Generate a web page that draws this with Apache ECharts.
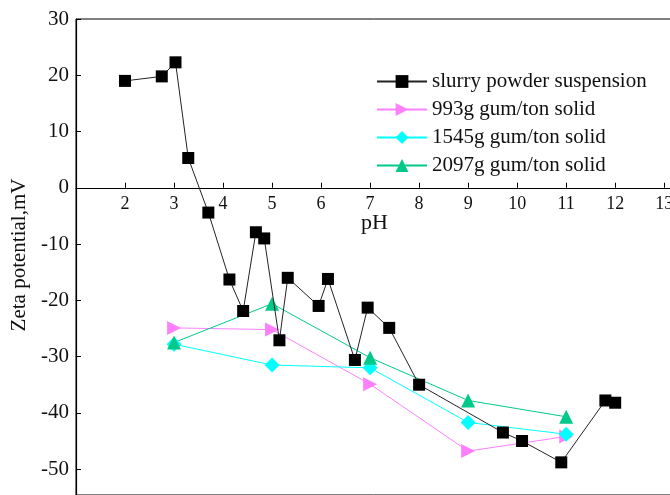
<!DOCTYPE html>
<html lang="en">
<head>
    <meta charset="UTF-8">
    <title>Zeta potential vs pH</title>
    <script src="https://cdn.jsdelivr.net/npm/echarts@6/dist/echarts.min.js"></script>
    <style>
        html, body { margin: 0; padding: 0; background: #fff; }
    </style>
</head>
<body>
<div id="main" style="width: 670px; height: 495px;"></div>
<script type="text/javascript">
    // 数据：pH 与 zeta 电位
    var slurryPH = [2.0, 2.75, 3.03, 3.29, 3.7, 4.13, 4.41, 4.67, 4.84, 5.15, 5.32, 5.95, 6.14, 6.69, 6.95, 7.39, 8.0, 9.71, 10.1, 10.9, 11.8, 12.0];
    var slurryZeta = [19.0, 19.8, 22.3, 5.3, -4.4, -16.3, -21.9, -7.9, -9.0, -27.1, -16.0, -21.0, -16.2, -30.6, -21.3, -24.9, -35.0, -43.5, -45.0, -48.8, -37.8, -38.2];

    var gumPH = [3, 5, 7, 9, 11];
    var gum993 = [-24.9, -25.2, -34.9, -46.8, -44.2];
    var gum1545 = [-27.8, -31.5, -32.0, -41.7, -43.8];
    var gum2097 = [-27.5, -20.6, -30.2, -37.8, -40.7];

    var seriesNames = ['slurry powder suspension', '993g gum/ton solid', '1545g gum/ton solid', '2097g gum/ton solid'];

    // 刻度标签
    var xTicks = [2, 3, 4, 5, 6, 7, 8, 9, 10, 11, 12, 13];
    var yTicks = [-50, -40, -30, -20, -10, 0, 10, 20, 30];
    var yMin = -54.6, yMax = 30;

    function pairs(xs, ys) {
        var out = [];
        for (var i = 0; i < xs.length; i++) out.push([xs[i], ys[i]]);
        return out;
    }

    var font = 'Liberation Serif';
    var gridTop = 19, gridH = 495 - gridTop;
    // 第二个 grid 的底边正好落在 y=0 处，用它画 pH 轴
    var zeroH = gridH * yMax / (yMax - yMin);

    var myEcharts = echarts.init(document.getElementById('main'));
    var option = {
        animation: false,
        grid: [
            {
                left: 76, right: -4, top: gridTop, bottom: 0,
                outerBoundsMode: 'none',
                show: true, borderColor: '#000', borderWidth: 1
            },
            {
                left: 76, right: -4, top: gridTop, height: zeroH,
                outerBoundsMode: 'none'
            }
        ],
        legend: {
            orient: 'vertical',
            left: 371, top: 66,
            itemWidth: 50, itemHeight: 16, itemGap: 7,
            textStyle: { fontFamily: font, fontSize: 21, color: '#111' },
            data: seriesNames
        },
        graphic: [{
            type: 'text', left: 361, top: 212,
            style: { text: 'pH', fontFamily: font, fontSize: 22, fill: '#111' }
        }],
        xAxis: [
            {
                type: 'value', gridIndex: 0,
                min: 1, max: 13.2,
                axisLine: { show: false },
                axisTick: { show: false },
                axisLabel: { show: false },
                splitLine: { show: false }
            },
            {
                type: 'value', gridIndex: 1, position: 'bottom',
                min: 1, max: 13.2,
                axisLine: { onZero: false, lineStyle: { color: '#000', width: 1.2 } },
                axisTick: { inside: true, length: 5, customValues: xTicks, lineStyle: { color: '#000' } },
                axisLabel: {
                    margin: 7, fontFamily: font, fontSize: 18, color: '#111',
                    customValues: xTicks
                },
                splitLine: { show: false }
            }
        ],
        yAxis: [
            {
                type: 'value', gridIndex: 0,
                min: yMin, max: yMax,
                name: 'Zeta potential,mV', nameLocation: 'middle', nameGap: 44,
                nameTextStyle: { fontFamily: font, fontSize: 21, color: '#111', padding: [0, 0, 0, 4] },
                axisLine: { lineStyle: { color: '#000', width: 1.2 } },
                axisTick: { inside: true, length: 5, customValues: yTicks, lineStyle: { color: '#000' } },
                axisLabel: {
                    margin: 7, fontFamily: font, fontSize: 21, color: '#111',
                    customValues: yTicks
                },
                splitLine: { show: false }
            },
            {
                type: 'value', gridIndex: 1, min: 0, max: yMax, show: false
            }
        ],
        series: [
            {
                name: seriesNames[0], type: 'line',
                data: pairs(slurryPH, slurryZeta),
                symbol: 'rect', symbolSize: 12,
                itemStyle: { color: '#000' },
                lineStyle: { color: '#222', width: 1 },
                z: 5
            },
            {
                name: seriesNames[1], type: 'line',
                data: pairs(gumPH, gum993),
                symbol: 'triangle', symbolSize: 14, symbolRotate: -90,
                itemStyle: { color: '#FF80FF' },
                lineStyle: { color: '#FF80FF', width: 1 }
            },
            {
                name: seriesNames[2], type: 'line',
                data: pairs(gumPH, gum1545),
                symbol: 'diamond', symbolSize: 15,
                itemStyle: { color: '#00FFFF' },
                lineStyle: { color: '#00FFFF', width: 1 }
            },
            {
                name: seriesNames[3], type: 'line',
                data: pairs(gumPH, gum2097),
                symbol: 'triangle', symbolSize: 14,
                itemStyle: { color: '#00C98A' },
                lineStyle: { color: '#00C98A', width: 1 }
            }
        ]
    };
    myEcharts.setOption(option);
</script>
</body>
</html>
